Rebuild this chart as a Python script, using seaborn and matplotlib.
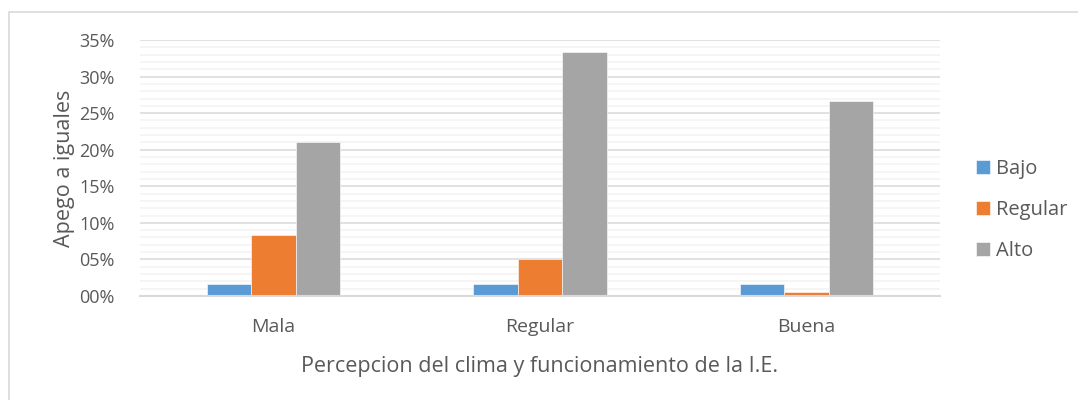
import matplotlib
matplotlib.use("Agg")
import matplotlib.pyplot as plt
from matplotlib.patches import Rectangle
from matplotlib.ticker import MultipleLocator, FuncFormatter
import seaborn as sns
import pandas as pd

categories = ["Mala", "Regular", "Buena"]
series = ["Bajo", "Regular", "Alto"]
bajo = [1.6, 1.6, 1.6]
regular = [8.3, 5.0, 0.5]
alto = [21.1, 33.3, 26.7]
colors = ["#5B9BD5", "#ED7D31", "#A5A5A5"]

rows = []
for name, vals in zip(series, [bajo, regular, alto]):
    for cat, v in zip(categories, vals):
        rows.append({"cat": cat, "serie": name, "valor": v})
df = pd.DataFrame(rows)

sns.set_style("white")
plt.rcParams["font.family"] = ["Open Sans", "DejaVu Sans"]
text_color = "#595959"

fig = plt.figure(figsize=(10.78, 4.0), dpi=100)
ax = fig.add_axes([140 / 1078, 1 - 296 / 400, 800 / 1078, 256 / 400])

sns.barplot(data=df, x="cat", y="valor", hue="serie", order=categories,
            hue_order=series, palette=colors, width=0.5, gap=0,
            saturation=1, ax=ax, legend=True)
for patch in ax.patches:
    patch.set_edgecolor("white")
    patch.set_linewidth(0.4)

ax.set_ylim(0, 35)
ax.set_xlim(-0.5, 2.5)
ax.yaxis.set_major_locator(MultipleLocator(5))
ax.yaxis.set_minor_locator(MultipleLocator(1))
ax.yaxis.set_major_formatter(FuncFormatter(lambda v, p: f"{int(round(v)):02d}%"))
ax.grid(True, which="major", axis="y", color="#D9D9D9", linewidth=1.1)
ax.grid(True, which="minor", axis="y", color="#F2F2F2", linewidth=1.1)
ax.set_axisbelow(True)
for s in ["top", "right", "left"]:
    ax.spines[s].set_visible(False)
ax.spines["bottom"].set_color("#D9D9D9")
ax.spines["bottom"].set_linewidth(1.5)
ax.tick_params(axis="both", which="both", length=0, labelcolor=text_color)
ax.tick_params(axis="x", pad=16, labelsize=14)
ax.tick_params(axis="y", pad=18, labelsize=13)

ax.set_xlabel("Percepcion del clima y funcionamiento de la I.E.",
              fontsize=15.5, color=text_color, labelpad=14)
ax.set_ylabel("Apego a iguales", fontsize=15.5, color=text_color, labelpad=3)

leg = ax.legend(loc="center left", bbox_to_anchor=(1.022, 0.336), frameon=False,
                fontsize=14.5, labelspacing=1.05, handlelength=0.7,
                handleheight=0.7, handletextpad=0.3)
for t in leg.get_texts():
    t.set_color(text_color)

fig.patches.append(Rectangle((9 / 1078, -0.1), 1.2, 0.1 + (400 - 12) / 400,
                             transform=fig.transFigure, fill=False,
                             edgecolor="#D9D9D9", linewidth=1.2))

fig.savefig("out.png", dpi=100, facecolor="white")
